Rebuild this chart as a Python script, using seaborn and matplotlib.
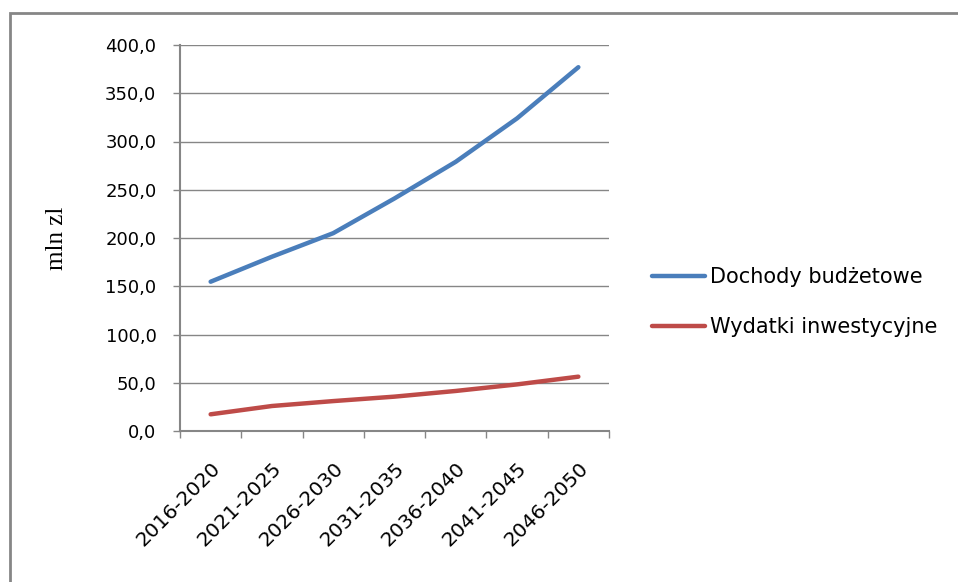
import matplotlib
matplotlib.use("Agg")
import matplotlib.pyplot as plt
import matplotlib.ticker as mticker
from matplotlib.patches import Rectangle
import seaborn as sns
import pandas as pd

categories = ['2016-2020', '2021-2025', '2026-2030', '2031-2035',
              '2036-2040', '2041-2045', '2046-2050']
dochody = [154.7, 180.6, 205.0, 241.0, 279.0, 324.0, 377.0]
wydatki = [17.3, 25.9, 31.0, 35.6, 41.5, 48.3, 56.3]
series_names = ['Dochody budżetowe', 'Wydatki inwestycyjne']
yticks = [0, 50, 100, 150, 200, 250, 300, 350, 400]

sns.set_theme(style="white")
plt.rcParams['font.family'] = ['DejaVu Sans']
plt.rcParams['text.color'] = 'black'
plt.rcParams['xtick.labelcolor'] = 'black'
plt.rcParams['ytick.labelcolor'] = 'black'
plt.rcParams['axes.labelcolor'] = 'black'

df = pd.DataFrame({
    'x': list(range(len(categories))) * 2,
    'value': dochody + wydatki,
    'series': [series_names[0]] * len(categories) + [series_names[1]] * len(categories),
})

fig = plt.figure(figsize=(9.58, 5.82), dpi=100)
ax = fig.add_axes([180/958, 1 - 431/582, (609-180)/958, (431-45)/582])

grey = '#868686'
sns.lineplot(data=df, x='x', y='value', hue='series',
             palette=['#4A7EBB', '#BE4B48'], linewidth=3.2, ax=ax,
             legend=True, zorder=3)

ax.set_ylim(0, 400)
ax.set_xlim(-0.5, len(categories) - 0.5)
ax.set_yticks(yticks)
ax.yaxis.set_major_formatter(mticker.FuncFormatter(lambda v, p: f"{v:.1f}".replace('.', ',')))
ax.grid(axis='y', color=grey, linewidth=1.0)
ax.set_axisbelow(True)

ax.set_xticks([i - 0.5 for i in range(len(categories) + 1)])
ax.set_xticklabels([])
ax.set_xticks(range(len(categories)), minor=True)
ax.set_xticklabels(categories, minor=True, rotation=45, ha='right',
                   rotation_mode='anchor', fontsize=14.5, color='black')
ax.tick_params(axis='x', which='minor', length=0, pad=20)
ax.tick_params(axis='x', which='major', length=5, width=1, color=grey, direction='out', bottom=True)
ax.tick_params(axis='y', which='major', length=5, width=1, color=grey, direction='out', left=True,
               labelsize=13, pad=12, labelcolor='black')

for side in ['top', 'right']:
    ax.spines[side].set_visible(False)
for side in ['left', 'bottom']:
    ax.spines[side].set_color(grey)
    ax.spines[side].set_linewidth(1.5)

ax.set_xlabel('')
ax.set_ylabel('mln zl', family=['Liberation Serif', 'DejaVu Serif'], fontsize=18, color='black')
ax.yaxis.set_label_coords(-0.262, 0.5)

handles, labels = ax.get_legend_handles_labels()
leg = ax.legend(handles, labels, loc='center left', bbox_to_anchor=(633/958, 1 - 302/582),
                bbox_transform=fig.transFigure, frameon=False, fontsize=15,
                handlelength=2.55, labelspacing=1.45, handletextpad=0.25)
for line in leg.get_lines():
    line.set_linewidth(3.2)
for t in leg.get_texts():
    t.set_color('black')

fig.patches.append(Rectangle((10/958, -0.05), 1.1, 0.05 + 1 - 13/582,
                             transform=fig.transFigure, fill=False,
                             edgecolor=grey, linewidth=2, clip_on=False))

fig.savefig('out.png', dpi=100, facecolor='white')
